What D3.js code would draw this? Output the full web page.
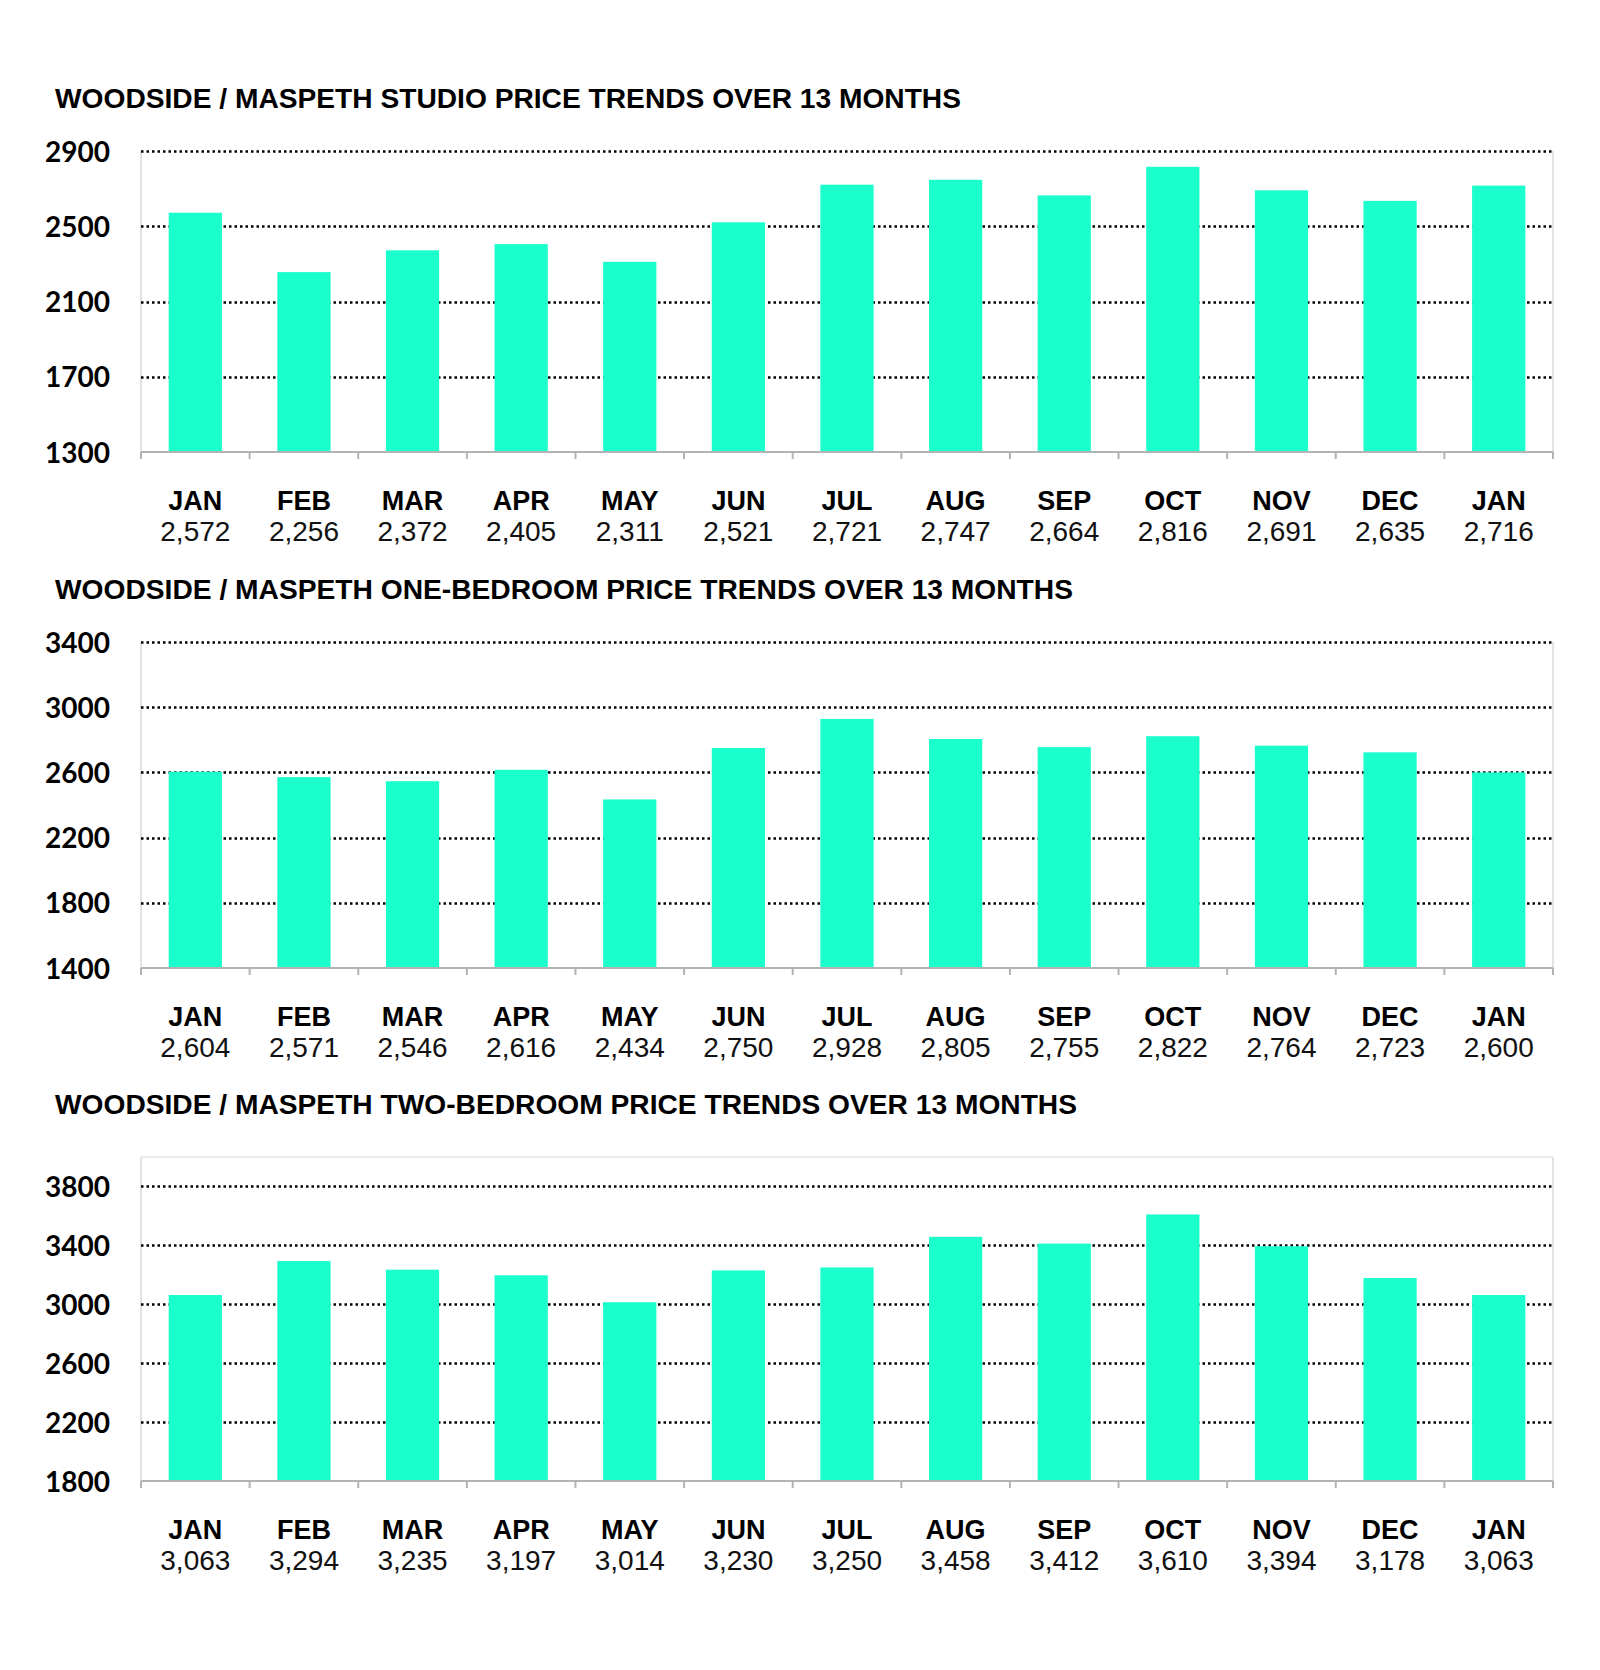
<!DOCTYPE html>
<html>
<head>
<meta charset="utf-8">
<script src="https://cdn.jsdelivr.net/npm/d3@7"></script>
<style>
  html, body { margin: 0; padding: 0; background: #ffffff; }
  svg { display: block; }
</style>
</head>
<body>
<script>
// ---- DATA ----
const months = ["JAN","FEB","MAR","APR","MAY","JUN","JUL","AUG","SEP","OCT","NOV","DEC","JAN"];
const studioValues   = [2572, 2256, 2372, 2405, 2311, 2521, 2721, 2747, 2664, 2816, 2691, 2635, 2716];
const oneBedValues   = [2604, 2571, 2546, 2616, 2434, 2750, 2928, 2805, 2755, 2822, 2764, 2723, 2600];
const twoBedValues   = [3063, 3294, 3235, 3197, 3014, 3230, 3250, 3458, 3412, 3610, 3394, 3178, 3063];
const studioTicks = [1300, 1700, 2100, 2500, 2900];
const oneBedTicks = [1400, 1800, 2200, 2600, 3000, 3400];
const twoBedTicks = [1800, 2200, 2600, 3000, 3400, 3800];
const titles = [
  "WOODSIDE / MASPETH STUDIO PRICE TRENDS OVER 13 MONTHS",
  "WOODSIDE / MASPETH ONE-BEDROOM PRICE TRENDS OVER 13 MONTHS",
  "WOODSIDE / MASPETH TWO-BEDROOM PRICE TRENDS OVER 13 MONTHS"
];

// ---- LAYOUT ----
const W = 1600, H = 1670;
const plotLeft = 141, plotRight = 1553;
const panels = [
  { title: titles[0], values: studioValues, ticks: studioTicks, domain: [1300, 2900], top: 151, bottom: 452, titleW: 906 },
  { title: titles[1], values: oneBedValues, ticks: oneBedTicks, domain: [1400, 3400], top: 642, bottom: 968, titleW: 1018 },
  { title: titles[2], values: twoBedValues, ticks: twoBedTicks, domain: [1800, 4000], top: 1157, bottom: 1481, titleW: 1022 }
];

const svg = d3.select("body").append("svg")
  .attr("width", W).attr("height", H)
  .attr("viewBox", `0 0 ${W} ${H}`);

const barColor = "#1affcc";
const fmt = d3.format(",");

panels.forEach((p, pi) => {
  const g = svg.append("g");
  const x = d3.scaleBand()
    .domain(d3.range(months.length))
    .range([plotLeft, plotRight])
    .paddingInner(0.51)
    .paddingOuter(0.255);
  const y = d3.scaleLinear().domain(p.domain).range([p.bottom, p.top]);

  // title
  g.append("text")
    .attr("x", 55).attr("y", p.top - 43)
    .attr("font-family", "'Liberation Sans', Arial, sans-serif")
    .attr("font-weight", "bold")
    .attr("font-size", 27)
    .attr("fill", "#000")
    .attr("textLength", p.titleW)
    .attr("lengthAdjust", "spacingAndGlyphs")
    .text(p.title);

  // plot frame (light gray)
  g.append("line")
    .attr("x1", plotLeft).attr("x2", plotLeft)
    .attr("y1", p.top).attr("y2", p.bottom)
    .attr("stroke", "#d9d9d9").attr("stroke-width", 1.5);
  g.append("line")
    .attr("x1", plotRight).attr("x2", plotRight)
    .attr("y1", p.top).attr("y2", p.bottom)
    .attr("stroke", "#d9d9d9").attr("stroke-width", 1.5);
  if (y(p.ticks[p.ticks.length - 1]) > p.top + 1) {
    g.append("line")
      .attr("x1", plotLeft).attr("x2", plotRight)
      .attr("y1", p.top).attr("y2", p.top)
      .attr("stroke", "#e3e3e3").attr("stroke-width", 1.5);
  }

  // gridlines + y labels via axis
  const yAxis = d3.axisLeft(y).tickValues(p.ticks).tickSize(0).tickPadding(0).tickFormat(d3.format("d"));
  const ya = g.append("g").attr("transform", `translate(${plotLeft},0)`).call(yAxis);
  ya.select(".domain").remove();
  ya.selectAll("text")
    .attr("x", 110 - plotLeft)
    .attr("dy", "0.36em")
    .attr("font-family", "Lato, 'Open Sans', sans-serif")
    .attr("font-weight", "bold")
    .attr("font-size", 28)
    .attr("fill", "#000");

  g.append("g").selectAll("line")
    .data(p.ticks.slice(1))
    .join("line")
    .attr("x1", plotLeft).attr("x2", plotRight)
    .attr("y1", d => Math.round(y(d)) + 0.5).attr("y2", d => Math.round(y(d)) + 0.5)
    .attr("stroke", "#000").attr("stroke-width", 2.5)
    .attr("stroke-dasharray", "2.5,3");

  // bars
  g.append("g").selectAll("rect")
    .data(p.values)
    .join("rect")
    .attr("x", (d, i) => x(i))
    .attr("width", x.bandwidth())
    .attr("y", d => y(d))
    .attr("height", d => p.bottom - y(d))
    .attr("fill", barColor);

  // x axis line and boundary ticks
  g.append("line")
    .attr("x1", plotLeft).attr("x2", plotRight)
    .attr("y1", p.bottom).attr("y2", p.bottom)
    .attr("stroke", "#b3b3b3").attr("stroke-width", 2);
  const step = x.step();
  g.append("g").selectAll("line")
    .data(d3.range(months.length + 1))
    .join("line")
    .attr("x1", i => plotLeft + i * step).attr("x2", i => plotLeft + i * step)
    .attr("y1", p.bottom).attr("y2", p.bottom + 7)
    .attr("stroke", "#b3b3b3").attr("stroke-width", 2);

  // month labels & values
  const lab = g.append("g").selectAll("g")
    .data(months)
    .join("g")
    .attr("transform", (d, i) => `translate(${x(i) + x.bandwidth() / 2},0)`);
  lab.append("text")
    .attr("y", p.bottom + 58)
    .attr("text-anchor", "middle")
    .attr("font-family", "'Liberation Sans', Arial, sans-serif")
    .attr("font-weight", "bold")
    .attr("font-size", 27)
    .attr("fill", "#000")
    .text(d => d);
  lab.append("text")
    .attr("y", p.bottom + 89)
    .attr("text-anchor", "middle")
    .attr("font-family", "'Liberation Sans', Arial, sans-serif")
    .attr("font-size", 28)
    .attr("fill", "#111")
    .text((d, i) => fmt(p.values[i]));
});
</script>
</body>
</html>
